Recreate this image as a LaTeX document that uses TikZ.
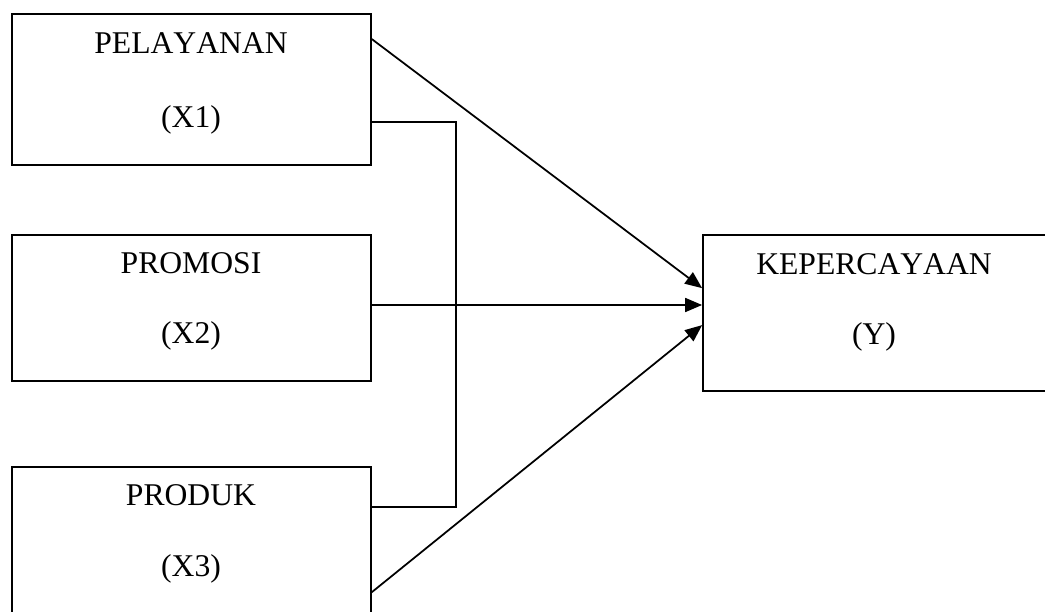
\documentclass[tikz,border=0pt]{standalone}
\usepackage{fontspec}
\setmainfont{Liberation Serif}[Kerning=Off]
\usetikzlibrary{arrows.meta}
\begin{document}
\begin{tikzpicture}[
  box/.style={draw, line width=0.5pt, inner sep=0pt, minimum width=3.59cm},
  lbl/.style={anchor=base, inner sep=0pt, font=\fontsize{9}{11}\selectfont},
  conn/.style={line width=0.5pt},
  arr/.style={line width=0.5pt, -{Triangle[length=1.7mm,width=1.4mm]}}
]
\useasboundingbox (0,0) rectangle (10.45,-6.12);
\clip (0,0) rectangle (10.45,-6.12);
% boxes
\node[box, minimum height=1.51cm] (x1) at (1.915,-0.895) {};
\node[box, minimum height=1.46cm] (x2) at (1.915,-3.08) {};
\node[box, minimum height=1.60cm] (x3) at (1.915,-5.47) {};
\node[box, minimum width=3.60cm, minimum height=1.56cm] (y) at (8.83,-3.13) {};
% labels
\node[lbl] (t1a) at (1.91,-0.53) {PELAYANAN};
\node[lbl] (t1b) at (1.91,-1.27) {(X1)};
\node[lbl] (t2a) at (1.91,-2.73) {PROMOSI};
\node[lbl] (t2b) at (1.91,-3.43) {(X2)};
\node[lbl] (t3a) at (1.91,-5.05) {PRODUK};
\node[lbl] (t3b) at (1.91,-5.76) {(X3)};
\node[lbl] (tya) at (8.74,-2.74) {KEPERCAYAAN};
\node[lbl] (tyb) at (8.74,-3.44) {(Y)};
% bracket connecting X1 and X3
\draw[conn] ([yshift=-1.09cm]x1.north east) -- ++(0.84,0) |- ([yshift=-0.41cm]x3.north east);
% arrows to Y
\draw[arr] ([yshift=-0.26cm]x1.north east) -- ([yshift=-0.54cm]y.north west);
\draw[arr] ([yshift=0.03cm]x2.east) -- ([yshift=0.03cm]x2.east -| y.west);
\draw[arr] ([yshift=-1.26cm]x3.north east) -- ([yshift=-0.91cm]y.north west);
\end{tikzpicture}
\end{document}
